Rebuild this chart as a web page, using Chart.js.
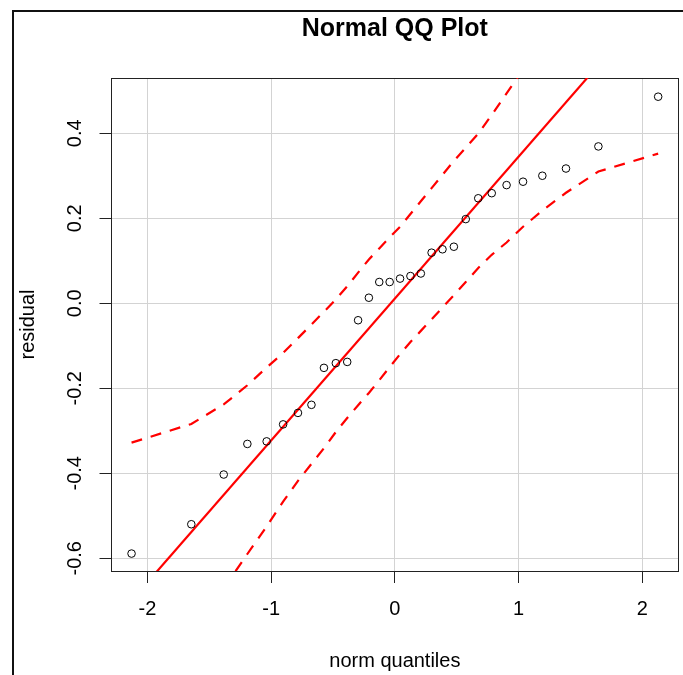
<!DOCTYPE html>
<html>
<head>
<meta charset="utf-8">
<title>Normal QQ Plot</title>
<script src="https://cdn.jsdelivr.net/npm/chart.js@4/dist/chart.umd.min.js"></script>
<style>
  html, body { margin: 0; padding: 0; background: #fff; }
  #wrap { width: 683px; height: 675px; position: relative; }
</style>
</head>
<body>
<div id="wrap"><canvas id="qq" width="683" height="675"></canvas></div>
<script>
// ── 数据 ──
var quantiles = [-2.128, -1.645, -1.383, -1.192, -1.036, -0.903, -0.783, -0.674, -0.573, -0.477,
                 -0.385, -0.297, -0.210, -0.126, -0.042, 0.042, 0.126, 0.210, 0.297, 0.385,
                 0.477, 0.573, 0.674, 0.783, 0.903, 1.036, 1.192, 1.383, 1.645, 2.128];
var residuals = [-0.589, -0.520, -0.403, -0.331, -0.325, -0.285, -0.258, -0.239, -0.152, -0.141,
                 -0.138, -0.040, 0.013, 0.050, 0.050, 0.058, 0.064, 0.070, 0.119, 0.127,
                 0.133, 0.198, 0.247, 0.259, 0.278, 0.286, 0.300, 0.317, 0.369, 0.486];
var upperBand = [-0.328, -0.284, -0.238, -0.193, -0.151, -0.117, -0.082, -0.050, -0.020, 0.009,
                 0.040, 0.072, 0.103, 0.129, 0.155, 0.180, 0.210, 0.240, 0.271, 0.302,
                 0.335, 0.366, 0.399, 0.443, 0.494, 0.550, 0.609, 0.693, 0.824, 1.108];
var lowerBand = [-1.086, -0.802, -0.671, -0.590, -0.525, -0.467, -0.418, -0.378, -0.341, -0.303,
                 -0.270, -0.240, -0.211, -0.181, -0.150, -0.120, -0.091, -0.065, -0.038, -0.010,
                 0.019, 0.050, 0.083, 0.114, 0.143, 0.180, 0.218, 0.260, 0.310, 0.352];
var refLineX = [-2.3, 2.3];
var refLineY = [-0.757, 0.779];

var xTicks = [-2, -1, 0, 1, 2];
var xTickLabels = ['-2', '-1', '0', '1', '2'];
var yTicks = [-0.6, -0.4, -0.2, 0.0, 0.2, 0.4];
var yTickLabels = ['-0.6', '-0.4', '-0.2', '0.0', '0.2', '0.4'];

function pairs(xs, ys) {
  return xs.map(function(x, i) { return { x: x, y: ys[i] }; });
}

function fixedTicks(values) {
  return function(axis) {
    axis.ticks = values.map(function(v) { return { value: v }; });
  };
}

function labelFor(values, labels) {
  return function(v) {
    for (var i = 0; i < values.length; i++) {
      if (Math.abs(values[i] - v) < 1e-9) return labels[i];
    }
    return '';
  };
}

// ── 外框 ──
var outerFrame = {
  id: 'outerFrame',
  beforeDraw: function(chart) {
    var ctx = chart.ctx;
    ctx.save();
    ctx.fillStyle = '#111';
    ctx.fillRect(12, 10, 2, chart.height - 10);
    ctx.fillRect(12, 10, chart.width - 12, 2);
    ctx.restore();
  }
};

Chart.defaults.font.family = "'Liberation Sans', Arial, sans-serif";
Chart.defaults.font.size = 20;
Chart.defaults.color = '#000';

var FRAME = '#222';
var GRID = '#d3d3d3';

new Chart(document.getElementById('qq').getContext('2d'), {
  type: 'scatter',
  data: {
    datasets: [
      {
        label: 'residual',
        data: pairs(quantiles, residuals),
        pointStyle: 'circle',
        pointRadius: 3.8,
        pointHoverRadius: 3.8,
        borderWidth: 1,
        borderColor: '#000',
        backgroundColor: 'rgba(0,0,0,0)'
      },
      {
        label: 'qqline',
        data: pairs(refLineX, refLineY),
        showLine: true,
        pointRadius: 0,
        borderColor: '#ff0000',
        borderWidth: 2.2
      },
      {
        label: 'upper',
        data: pairs(quantiles, upperBand),
        showLine: true,
        pointRadius: 0,
        borderColor: '#ff0000',
        borderWidth: 2.2,
        borderDash: [11, 9]
      },
      {
        label: 'lower',
        data: pairs(quantiles, lowerBand),
        showLine: true,
        pointRadius: 0,
        borderColor: '#ff0000',
        borderWidth: 2.2,
        borderDash: [11, 9]
      }
    ]
  },
  options: {
    responsive: false,
    animation: false,
    events: [],
    layout: { padding: { left: 15.5, top: 14, right: 4, bottom: 0 } },
    plugins: {
      legend: { display: false },
      tooltip: { enabled: false }
    },
    scales: {
      x: {
        type: 'linear',
        position: 'bottom',
        min: -2.29, max: 2.29,
        afterBuildTicks: fixedTicks(xTicks),
        ticks: { padding: 14, includeBounds: false, callback: labelFor(xTicks, xTickLabels) },
        grid: { color: GRID, tickColor: FRAME, tickLength: 12, lineWidth: 1 },
        border: { color: FRAME, width: 1 },
        title: { display: true, text: 'norm quantiles', padding: { top: 14, bottom: 2 } }
      },
      top: {
        type: 'linear',
        position: 'top',
        min: -2.29, max: 2.29,
        afterBuildTicks: fixedTicks([]),
        ticks: { display: false },
        grid: { display: false, drawTicks: false },
        border: { color: FRAME, width: 1 },
        title: {
          display: true, text: 'Normal QQ Plot',
          font: { size: 25, weight: 'bold' },
          padding: { top: 0, bottom: 34 }
        }
      },
      y: {
        type: 'linear',
        position: 'left',
        min: -0.63, max: 0.53,
        afterBuildTicks: fixedTicks(yTicks),
        ticks: {
          padding: 7, includeBounds: false,
          minRotation: 90, maxRotation: 90, crossAlign: 'center',
          callback: labelFor(yTicks, yTickLabels)
        },
        grid: { color: GRID, tickColor: FRAME, tickLength: 12, lineWidth: 1 },
        border: { color: FRAME, width: 1 },
        title: { display: true, text: 'residual', padding: { top: 1, bottom: 21 } }
      },
      right: {
        type: 'linear',
        position: 'right',
        min: -0.63, max: 0.53,
        afterBuildTicks: fixedTicks([]),
        ticks: { display: false },
        grid: { display: false, drawTicks: false },
        border: { color: FRAME, width: 1 }
      }
    }
  },
  plugins: [outerFrame]
});
</script>
</body>
</html>
